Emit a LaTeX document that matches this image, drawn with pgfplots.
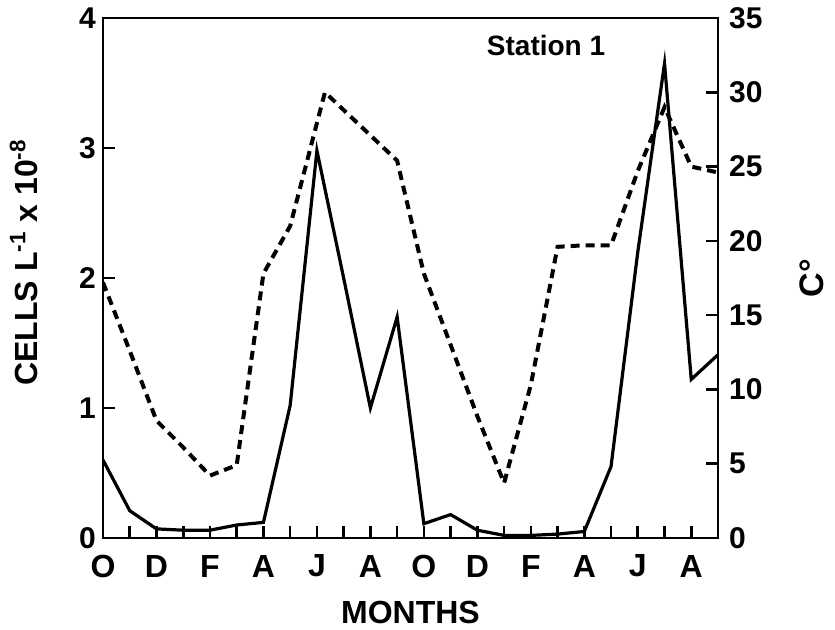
\documentclass[border=0pt]{standalone}
\usepackage{pgfplots}
\pgfplotsset{compat=1.18}
\usepackage{fontspec}
\setmainfont{Liberation Sans}

\pgfplotsset{
  common/.style={
    scale only axis, width=307.5pt, height=260pt,
    xmin=0, xmax=23,
    tick align=inside, major tick length=6pt,
    axis line style={line width=1.3pt},
    tick style={line width=1.3pt, black},
    /pgf/number format/assume math mode=true,
    ticklabel style={font=\fontsize{15}{15}\selectfont\bfseries},
  }
}

\begin{document}
\begin{tikzpicture}
\useasboundingbox (-51.5pt,-46pt) rectangle (366pt,269pt);
\begin{axis}[
  common,
  ymin=0, ymax=4, ytick={0,1,2,3,4},
  xtick={0,...,23},
  xticklabels={O,,D,,F,,A,,J,,A,,O,,D,,F,,A,,J,,A,},
  xticklabel style={font=\fontsize{16}{16}\selectfont\bfseries, anchor=center, yshift=-14pt},
  xtick pos=bottom, ytick pos=left,
  xlabel={MONTHS},
  ylabel={CELLS L\textsuperscript{-1} x 10\textsuperscript{-8}},
  every axis x label/.style={at={(axis description cs:0.5,-0.144)}, anchor=center,
    font=\fontsize{16}{16}\selectfont\bfseries},
  every axis y label/.style={at={(axis description cs:-0.1285,0.53)}, rotate=90, anchor=center,
    font=\fontsize{16}{16}\selectfont\bfseries},
]
% cell counts
\addplot[black, line width=1.6pt] coordinates {
  (0,0.60) (1,0.21) (2,0.07) (3,0.06) (4,0.06) (5,0.10) (6,0.12)
  (7,1.02) (8,2.98) (9,2.00) (10,1.00) (11,1.70) (12,0.11) (13,0.18)
  (14,0.06) (15,0.02) (16,0.02) (17,0.03) (18,0.05) (19,0.55)
  (20,2.20) (21,3.65) (22,1.22) (23,1.41)
};
\node[font=\fontsize{14}{14}\selectfont\bfseries] at (axis cs:16.57,3.79) {Station 1};
\end{axis}

\begin{axis}[
  common,
  ymin=0, ymax=35, ytick={0,5,...,35},
  axis y line*=right, axis x line=none,
  yticklabel style={xshift=2pt},
  ylabel={C°},
  every axis y label/.style={at={(axis description cs:1.153,0.5)}, rotate=90, anchor=center,
    font=\fontsize{17}{17}\selectfont\bfseries},
]
% temperature
\addplot[black, line width=2pt, dash pattern=on 4.5pt off 3pt] coordinates {
  (0,17.2) (1,12.6) (2,7.9) (3,6.1) (4,4.2) (5,4.9) (6,17.8) (7,21.0)
  (8.3,30.0) (11,25.4) (12,17.8) (13,13.0) (14,8.2) (15,3.7) (16,10.3)
  (17,19.6) (18,19.7) (19,19.7) (20,24.7) (21,29.0) (22,25.0) (23,24.6)
};
\end{axis}
\end{tikzpicture}
\end{document}
